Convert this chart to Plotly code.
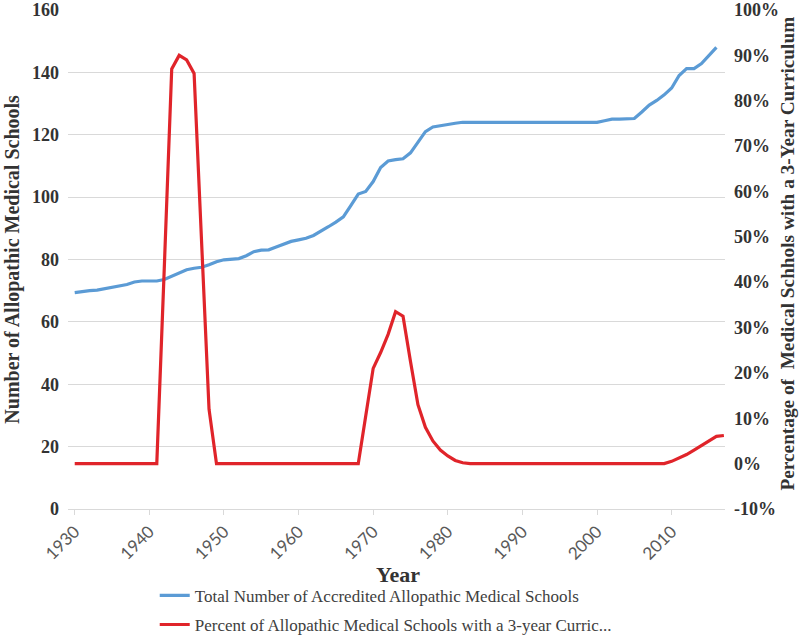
import plotly.graph_objects as go

# yearly values
years_blue = list(range(1930, 2017))
total_schools = [
    69.4, 69.8, 70.0, 70.2, 70.6, 71.0, 71.4, 72.0, 72.8, 73.1,   # 1930s
    73.1, 73.1, 73.6, 74.6, 75.8, 76.7, 77.2, 77.5, 78.3, 79.3,   # 1940s
    79.9, 80.1, 80.3, 81.2, 82.5, 83.0, 83.1, 84.0, 85.0, 85.8,   # 1950s
    86.3, 86.8, 87.7, 89.0, 90.5, 92.0, 93.7, 97.3, 101.0, 101.8, # 1960s
    105.0, 109.5, 111.6, 112.0, 112.3, 114.2, 117.8, 121.0, 122.5, 123.0,  # 1970s
    123.3, 123.7, 124.0, 124, 124, 124, 124, 124, 124, 124,       # 1980s
    124, 124, 124, 124, 124, 124, 124, 124, 124, 124,             # 1990s
    124, 124.5, 125, 125, 125, 125.2, 127.3, 129.5, 131, 132.8,   # 2000s
    135, 139, 141.2, 141.2, 142.8, 145.5, 148,                    # 2010-2016
]

years_red = list(range(1930, 2018))
pct_three_year = [
    0, 0, 0, 0, 0, 0, 0, 0, 0, 0,                       # 1930s
    0, 0, 43, 87, 90, 89, 86, 50, 12, 0,                # 1940s
    0, 0, 0, 0, 0, 0, 0, 0, 0, 0,                       # 1950s
    0, 0, 0, 0, 0, 0, 0, 0, 0, 10.5,                    # 1960s
    21, 24.5, 28.5, 33.5, 32.5, 22.5, 13, 8, 5, 3,      # 1970s
    1.7, 0.7, 0.2, 0, 0, 0, 0, 0, 0, 0,                 # 1980s
    0, 0, 0, 0, 0, 0, 0, 0, 0, 0,                       # 1990s
    0, 0, 0, 0, 0, 0, 0, 0, 0, 0,                       # 2000s
    0.5, 1.2, 2, 3, 4, 5.2, 6, 6.2,                     # 2010-2017
]

x_ticks = list(range(1930, 2011, 10))
pct_ticks = [-0.1, 0, 0.1, 0.2, 0.3, 0.4, 0.5, 0.6, 0.7, 0.8, 0.9, 1.0]
pct_labels = ["-10%", "0%", "10%", "20%", "30%", "40%", "50%", "60%", "70%", "80%", "90%", "100%"]

serif = "Liberation Serif, Times New Roman, serif"
grey = "#d9d9d9"
text_col = "#333333"

fig = go.Figure()
fig.add_trace(go.Scatter(
    x=years_blue, y=total_schools,
    mode="lines", name="Total Number of Accredited Allopathic Medical Schools",
    line=dict(color="#5b9bd5", width=3.2), legendgroup="a",
))
fig.add_trace(go.Scatter(
    x=years_red, y=[v / 100 for v in pct_three_year],
    mode="lines", name="Percent of Allopathic Medical Schools with a 3-year Curric...",
    line=dict(color="#e0242a", width=3.2), yaxis="y2", legendgroup="b",
))

fig.update_layout(
    width=800, height=635,
    margin=dict(l=68, r=75, t=10, b=126, autoexpand=False),
    plot_bgcolor="white", paper_bgcolor="white",
    showlegend=True,
    legend=dict(
        x=0.132, y=-0.138, xanchor="left", yanchor="top",
        font=dict(family=serif, size=17, color="#404040"),
        tracegroupgap=4, bgcolor="rgba(0,0,0,0)",
    ),
    xaxis=dict(
        range=[1929.1, 2017.15], tickvals=x_ticks, tickangle=-45,
        showgrid=False, zeroline=False, showline=True, linecolor=grey,
        ticks="outside", ticklen=5, tickcolor=grey, automargin=False,
        tickfont=dict(family="Lato, sans-serif", size=17, color="#595959"),
    ),
    yaxis=dict(
        range=[0, 160], dtick=20, gridcolor=grey, gridwidth=1.3,
        zeroline=False, showline=False, ticklabelstandoff=8, automargin=False,
        tickfont=dict(family=serif, size=18, color=text_col, weight="bold"),
    ),
    yaxis2=dict(
        overlaying="y", side="right", range=[-0.1, 1.0],
        tickvals=pct_ticks, ticktext=pct_labels, automargin=False,
        showgrid=False, zeroline=False, showline=False, ticklabelstandoff=8,
        tickfont=dict(family=serif, size=18, color=text_col, weight="bold"),
    ),
    annotations=[
        dict(text="<b>Year</b>", x=0.502, y=-0.132, xref="paper", yref="paper",
             xanchor="center", yanchor="middle", showarrow=False,
             font=dict(family=serif, size=22, color=text_col)),
        dict(text="<b>Number of Allopathic Medical Schools</b>", textangle=-90,
             x=-0.085, y=0.5, xref="paper", yref="paper",
             xanchor="center", yanchor="middle", showarrow=False,
             font=dict(family=serif, size=20, color=text_col)),
        dict(text="<b>Percentage of  Medical Schhols with a 3-Year Curriculum</b>",
             textangle=-90, x=1.0944, y=0.512, xref="paper", yref="paper",
             xanchor="center", yanchor="middle", showarrow=False,
             font=dict(family=serif, size=19.3, color=text_col)),
    ],
)

# drop the page's default body margin so the figure sits at the window corner
fig.write_html("out.html", config={"displayModeBar": False},
               post_script="document.body.style.margin = '0';")
